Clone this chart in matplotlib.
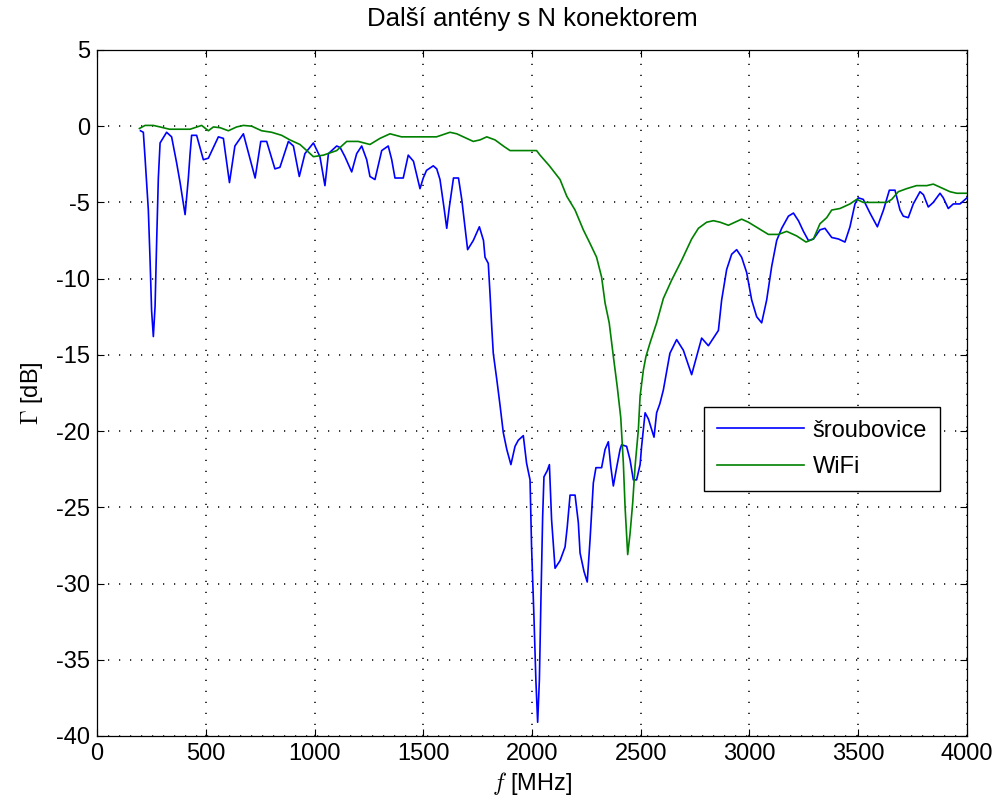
import matplotlib
matplotlib.use('Agg')
from matplotlib import pyplot as plt


# --------------------------- DATA ---------------------------

f_sroub = [200, 213, 221, 236, 244, 251, 259, 267, 274, 282, 290, 320, 343, 366, 382, 405,
           420, 428, 435, 458, 489, 512, 558, 581, 609, 634, 673, 727, 753, 780, 818, 841,
           880, 903, 930, 956, 995, 1025, 1048, 1064, 1102, 1118, 1140, 1171, 1194, 1217,
           1240, 1255, 1278, 1309, 1339, 1355, 1370, 1408, 1431, 1455, 1485, 1500, 1515,
           1546, 1562, 1577, 1595, 1608, 1620, 1639, 1662, 1677, 1692, 1704, 1730, 1758,
           1777, 1784, 1799, 1807, 1815, 1822, 1838, 1853, 1868, 1884, 1903, 1922, 1937,
           1960, 1975, 1991, 1998, 2009, 2018, 2026, 2034, 2041, 2049, 2055, 2070, 2080,
           2090, 2106, 2129, 2152, 2162, 2175, 2198, 2213, 2221, 2239, 2254, 2267, 2282,
           2294, 2320, 2336, 2351, 2362, 2374, 2389, 2405, 2412, 2435, 2451, 2466, 2481,
           2497, 2504, 2512, 2520, 2535, 2550, 2561, 2573, 2588, 2604, 2634, 2665, 2696,
           2734, 2757, 2780, 2811, 2857, 2872, 2895, 2918, 2941, 2964, 2987, 3010, 3033,
           3056, 3079, 3102, 3125, 3148, 3179, 3202, 3225, 3248, 3271, 3294, 3324, 3347,
           3378, 3409, 3439, 3462, 3485, 3500, 3523, 3554, 3588, 3616, 3643, 3669, 3692,
           3707, 3730, 3753, 3784, 3800, 3822, 3845, 3876, 3891, 3914, 3937, 3968, 4000]
g_sroub = [-0.3, -0.4, -2.1, -5.5, -8.8, -12.1, -13.8, -11.8, -7.7, -3.4, -1.1, -0.4, -0.7,
           -2.4, -3.7, -5.8, -3.4, -1.8, -0.6, -0.6, -2.2, -2.1, -0.7, -0.8, -3.7, -1.3,
           -0.5, -3.4, -1.0, -1.0, -2.8, -2.7, -1.0, -1.3, -3.3, -1.8, -1.1, -2.0, -3.9,
           -1.8, -1.3, -1.4, -2.0, -3.0, -1.8, -1.3, -2.2, -3.3, -3.5, -1.6, -1.3, -2.2,
           -3.4, -3.4, -1.9, -2.3, -4.1, -3.4, -2.9, -2.6, -2.8, -3.5, -5.3, -6.7, -5.3,
           -3.4, -3.4, -4.8, -6.6, -8.1, -7.5, -6.6, -7.5, -8.6, -9.0, -11.0, -13.2, -14.9,
           -16.6, -18.3, -20.1, -21.2, -22.2, -21.0, -20.6, -20.3, -22.1, -23.2, -27.6,
           -32.2, -36.4, -39.1, -36.3, -31.1, -25.6, -23.0, -22.6, -22.2, -25.8, -29.0,
           -28.5, -27.6, -26.3, -24.2, -24.2, -26.0, -28.0, -29.2, -29.9, -27.1, -23.4,
           -22.4, -22.4, -21.2, -20.7, -22.3, -23.6, -22.4, -21.2, -20.9, -21.0, -21.9,
           -23.2, -23.2, -22.2, -21.0, -19.9, -18.8, -19.2, -19.9, -20.4, -18.8, -18.2,
           -17.3, -14.9, -14.0, -14.7, -16.3, -15.1, -13.9, -14.4, -13.4, -11.4, -9.4,
           -8.4, -8.1, -8.6, -9.6, -11.4, -12.5, -12.9, -11.4, -9.2, -7.5, -6.7, -5.9,
           -5.7, -6.2, -6.9, -7.5, -7.4, -6.8, -6.7, -7.3, -7.4, -7.6, -6.6, -5.1, -4.7,
           -4.8, -5.7, -6.6, -5.5, -4.2, -4.2, -5.5, -5.9, -6.0, -5.1, -4.3, -4.5, -5.3,
           -5.0, -4.4, -4.7, -5.4, -5.1, -5.1, -4.7]

f_wifi = [195, 221, 259, 290, 333, 428, 481, 512, 535, 566, 604, 642, 673, 711, 757, 803,
          849, 887, 933, 972, 995, 1041, 1102, 1148, 1201, 1255, 1301, 1347, 1400, 1561,
          1623, 1654, 1730, 1761, 1792, 1830, 1868, 1899, 2021, 2037, 2080, 2129, 2160,
          2198, 2236, 2267, 2297, 2320, 2336, 2355, 2374, 2392, 2408, 2420, 2428, 2440,
          2451, 2463, 2474, 2489, 2497, 2512, 2524, 2543, 2573, 2604, 2642, 2688, 2734,
          2765, 2803, 2834, 2865, 2903, 2933, 2964, 2995, 3041, 3087, 3133, 3171, 3217,
          3260, 3294, 3324, 3355, 3378, 3416, 3462, 3493, 3523, 3569, 3631, 3654, 3684,
          3722, 3768, 3815, 3845, 3876, 3922, 3953, 4000]
g_wifi = [-0.15, 0.05, 0.05, -0.05, -0.2, -0.2, 0.05, -0.3, -0.05, -0.1, -0.3, -0.05, 0.05,
          0.0, -0.3, -0.4, -0.6, -0.9, -1.2, -1.7, -2.0, -1.9, -1.6, -1.0, -1.0, -1.2, -0.8,
          -0.5, -0.7, -0.7, -0.4, -0.5, -1.0, -0.9, -0.7, -0.9, -1.3, -1.6, -1.6, -1.9,
          -2.6, -3.5, -4.6, -5.5, -6.8, -7.7, -8.6, -9.9, -11.6, -12.9, -15.1, -17.1,
          -19.1, -22.1, -25.0, -28.1, -26.7, -24.7, -22.3, -19.9, -17.7, -16.0, -15.1,
          -14.2, -12.9, -11.3, -10.1, -8.8, -7.4, -6.7, -6.3, -6.2, -6.3, -6.5, -6.3,
          -6.1, -6.3, -6.7, -7.1, -7.1, -6.9, -7.2, -7.6, -7.4, -6.4, -6.0, -5.5, -5.4,
          -5.1, -4.8, -5.0, -5.0, -5.0, -4.8, -4.3, -4.1, -3.9, -3.9, -3.8, -4.0, -4.3,
          -4.4, -4.4]

x_ticks = [0, 500, 1000, 1500, 2000, 2500, 3000, 3500, 4000]
y_ticks = [5, 0, -5, -10, -15, -20, -25, -30, -35, -40]


# --------------------------- PLOT ---------------------------

plt.rcParams['font.family'] = ['Liberation Sans', 'DejaVu Sans']
plt.rcParams['mathtext.fontset'] = 'cm'
plt.rcParams['axes.unicode_minus'] = False

fig = plt.figure(figsize=(9.97, 8.07), dpi=100)
ax = fig.add_axes([0.0973, 0.088, 0.8726, 0.8501])

ax.plot(f_sroub, g_sroub, color='#0000ff', lw=1.2, label='šroubovice')
ax.plot(f_wifi, g_wifi, color='#008000', lw=1.2, label='WiFi')

ax.set_xlim(0, 4000)
ax.set_ylim(-40, 5)
ax.set_xticks(x_ticks)
ax.set_yticks(y_ticks)
ax.tick_params(direction='in', length=5, width=0.8, top=True, right=True,
               labelsize=17, pad=5)
for s in ax.spines.values():
    s.set_linewidth(0.9)

ax.grid(True, color='black', linestyle=(0, (0.8, 6.4)), linewidth=1.1)

ax.set_title('Další antény s N konektorem', fontsize=18.5, pad=17)
ax.set_xlabel(r'$f$ [MHz]', fontsize=17, labelpad=4)
ax.set_ylabel(r'$\Gamma$ [dB]', fontsize=17, labelpad=8)

leg = ax.legend(loc='upper right', bbox_to_anchor=(0.969, 0.480), borderaxespad=0,
                fontsize=17, handlelength=3.7, handletextpad=0.35, fancybox=False,
                framealpha=1, edgecolor='black', borderpad=0.55, labelspacing=0.6)
leg.get_frame().set_linewidth(1.0)

fig.savefig('out.png', dpi=100)
